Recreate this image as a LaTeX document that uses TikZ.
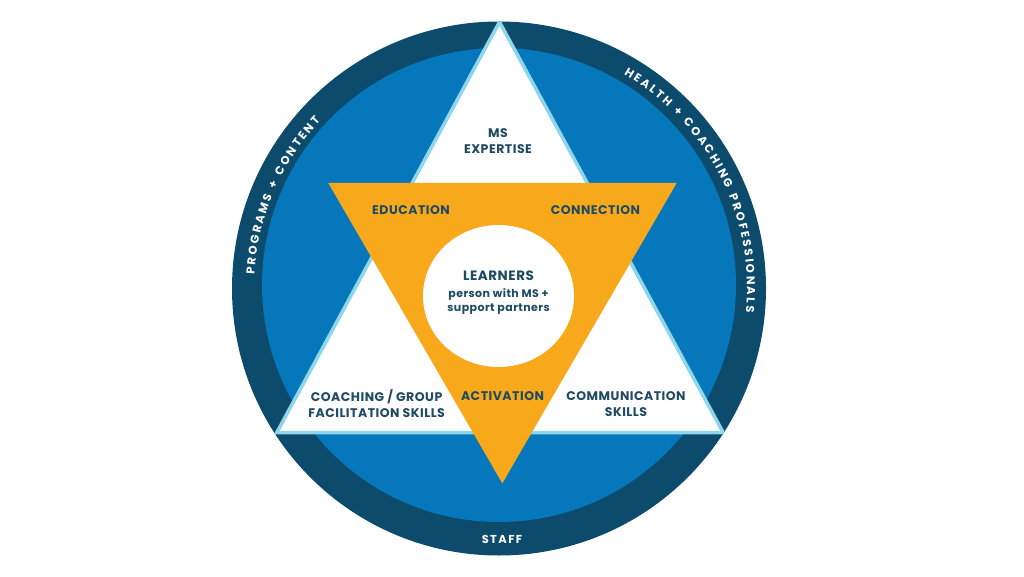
\documentclass[tikz,border=0pt]{standalone}
\usepackage{fontspec}
\setmainfont{Poppins}
\newfontfamily\lab[LetterSpace=4]{Poppins}
\newfontfamily\ringfont{Poppins}
\newfontfamily\stafffont[LetterSpace=12]{Poppins}
\usetikzlibrary{decorations.text}
\definecolor{ringc}{HTML}{0D4B6C}
\definecolor{bluec}{HTML}{0777BB}
\definecolor{edgec}{HTML}{8ED6EA}
\definecolor{orangec}{HTML}{F8A81B}
\definecolor{textc}{HTML}{1E4A63}
\begin{document}
\begin{tikzpicture}[x=1pt,y=1pt,
  lbl/.style={font=\lab\bfseries\fontsize{12.5}{15.8}\selectfont, text=textc, align=center, inner sep=0pt},
  learn/.style={font=\lab\bfseries\fontsize{13.5}{16}\selectfont, text=textc, align=center, inner sep=0pt},
  small/.style={font=\lab\bfseries\fontsize{11}{13.4}\selectfont, text=textc, align=center, inner sep=0pt},
  ringtext/.style={decorate, decoration={text along path, text={|\ringfont\bfseries\fontsize{11.5}{12}\selectfont|#1}, text color=white, text align={fit to path}}}
]
\useasboundingbox (0,0) rectangle (1024,576);
\fill[white] (0,0) rectangle (1024,576);
\coordinate (oc) at (499,287.5);
\coordinate (ic) at (499,291);
\fill[ringc] (oc) circle[radius=267];
\fill[bluec] (ic) circle[radius=237];
\begin{scope}
  \clip (oc) circle[radius=267];
  \draw[fill=white, draw=edgec, line width=3.5, line join=miter] (499.5,554) -- (723.3,143.3) -- (276.7,143.3) -- cycle;
\end{scope}
\fill[orangec] (328.3,393) -- (676.7,393) -- (502.3,92.7) -- cycle;
\fill[white] (498.5,280) ellipse[x radius=75.5, y radius=71];
% ring texts
\path[ringtext={PROGRAMS + CONTENT}] (oc) ++(176.8:245) arc[start angle=176.8, end angle=136.8, radius=245];
\path[ringtext={HEALTH + COACHING PROFESSIONALS}] (oc) ++(59.8:248) arc[start angle=59.8, end angle=-5.5, radius=248];
\node[font=\stafffont\bfseries\fontsize{11.5}{12}\selectfont, text=white, inner sep=0pt] (staff) at (502,37) {STAFF};
% labels
\node[lbl] (ms) at (498,435) {MS\\EXPERTISE};
\node[lbl] (edu) at (411,366) {EDUCATION};
\node[lbl] (con) at (595.4,366) {CONNECTION};
\node[learn] (learners) at (498.5,300) {LEARNERS};
\node[small] (person) at (498.5,274.5) {person with MS +\\support partners};
\node[lbl] (coach) at (376.6,172) {COACHING / GROUP\\FACILITATION SKILLS};
\node[lbl] (act) at (502.5,180) {ACTIVATION};
\node[lbl] (comm) at (626,172) {COMMUNICATION\\SKILLS};
\end{tikzpicture}
\end{document}
